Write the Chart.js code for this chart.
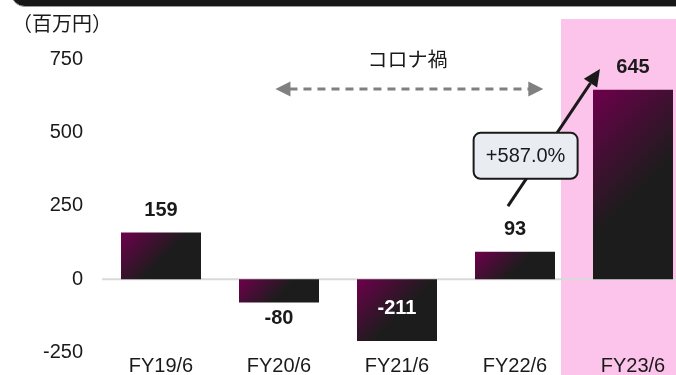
<!DOCTYPE html>
<html>
<head>
<meta charset="utf-8">
<script src="https://cdn.jsdelivr.net/npm/chart.js@4/dist/chart.umd.min.js"></script>
<style>
  html, body { margin: 0; padding: 0; background: #ffffff; overflow: hidden; width: 676px; height: 375px; }
  #wrap { position: absolute; left: 0; top: 0; width: 700px; height: 375px; }
</style>
</head>
<body>
<div id="wrap"><canvas id="c" width="700" height="375"></canvas></div>
<script>
// ---- data ----
const categories = ['FY19/6', 'FY20/6', 'FY21/6', 'FY22/6', 'FY23/6'];
const profitValues = [159, -80, -211, 93, 645];
const valueLabels = ['159', '-80', '-211', '93', '645'];
const yTicks = [-250, 0, 250, 500, 750];
const unitLabel = '（百万円）';
const periodLabel = 'コロナ禍';
const growthLabel = '+587.0%';
const highlightIndex = 4;

const FONT = '"Liberation Sans", Arial, "Noto Sans CJK JP", sans-serif';
const JFONT = '"Noto Sans CJK JP", "Liberation Sans", sans-serif';

function barGradient(ctx, left, top, w, h) {
  const L = (w + h) / 2;
  const g = ctx.createLinearGradient(left, top, left + L, top + L);
  g.addColorStop(0, '#6e004c');
  g.addColorStop(0.55, '#1c1c1c');
  g.addColorStop(1, '#1c1c1c');
  return g;
}

const decorPlugin = {
  id: 'decor',
  beforeDraw(chart) {
    const { ctx } = chart;
    const xs = chart.scales.x;
    const step = xs.getPixelForValue(1) - xs.getPixelForValue(0);
    ctx.save();
    // header bar
    ctx.fillStyle = '#171717';
    ctx.strokeStyle = '#9a9a9a';
    ctx.lineWidth = 1;
    ctx.beginPath();
    ctx.roundRect(11, -30, 720, 36.5, 14);
    ctx.fill();
    ctx.stroke();
    // highlight band
    const bx = xs.getPixelForValue(highlightIndex) - 0.61 * step;
    ctx.fillStyle = '#fcc4ea';
    ctx.fillRect(bx, 19, chart.width - bx, chart.height - 19);
    // unit label
    ctx.fillStyle = '#1a1a1a';
    ctx.font = '20px ' + JFONT;
    ctx.textAlign = 'left';
    ctx.textBaseline = 'middle';
    ctx.fillText(unitLabel, 12, 23);
    ctx.restore();
  },
  beforeDatasetsDraw(chart) {
    const { ctx, chartArea } = chart;
    const ys = chart.scales.y;
    const y0 = ys.getPixelForValue(0);
    ctx.save();
    ctx.strokeStyle = '#d9d9d9';
    ctx.lineWidth = 2;
    ctx.beginPath();
    ctx.moveTo(chartArea.left, y0);
    ctx.lineTo(chartArea.right, y0);
    ctx.stroke();
    ctx.restore();
  },
  afterDatasetsDraw(chart) {
    const { ctx } = chart;
    const xs = chart.scales.x, ys = chart.scales.y;
    const x0 = xs.getPixelForValue(0);
    const step = xs.getPixelForValue(1) - x0;
    const px = v => x0 + v * step;
    const py = v => ys.getPixelForValue(v);
    const meta = chart.getDatasetMeta(0);
    ctx.save();
    // value labels
    ctx.font = 'bold 20px ' + FONT;
    ctx.textAlign = 'center';
    ctx.textBaseline = 'middle';
    meta.data.forEach((bar, i) => {
      const v = profitValues[i];
      let y, color = '#1a1a1a';
      if (i === 2) { y = (bar.y + bar.base) / 2 - 2; color = '#ffffff'; }
      else if (v >= 0) { y = bar.y - 22; }
      else { y = bar.y + 16; }
      ctx.fillStyle = color;
      ctx.fillText(valueLabels[i], bar.x, y);
    });
    // period label + dashed double arrow
    ctx.font = '20px ' + JFONT;
    ctx.fillStyle = '#1a1a1a';
    ctx.fillText(periodLabel, px(2.09), py(750));
    const ay = py(648);
    const ax1 = px(0.97), ax2 = px(3.24);
    ctx.strokeStyle = '#808080';
    ctx.fillStyle = '#808080';
    ctx.lineWidth = 3;
    ctx.setLineDash([8, 6]);
    ctx.beginPath();
    ctx.moveTo(ax1 + 14, ay);
    ctx.lineTo(ax2 - 14, ay);
    ctx.stroke();
    ctx.setLineDash([]);
    ctx.beginPath();
    ctx.moveTo(ax1, ay); ctx.lineTo(ax1 + 15, ay - 7.5); ctx.lineTo(ax1 + 15, ay + 7.5); ctx.closePath();
    ctx.fill();
    ctx.beginPath();
    ctx.moveTo(ax2, ay); ctx.lineTo(ax2 - 15, ay - 7.5); ctx.lineTo(ax2 - 15, ay + 7.5); ctx.closePath();
    ctx.fill();
    // growth arrow
    const sx = px(2.94), sy = py(249);
    const tx = px(3.72), ty = py(716);
    const ang = Math.atan2(ty - sy, tx - sx);
    const hl = 17, hw = 8;
    const bxp = tx - hl * Math.cos(ang), byp = ty - hl * Math.sin(ang);
    ctx.strokeStyle = '#1a1a1a';
    ctx.fillStyle = '#1a1a1a';
    ctx.lineWidth = 3;
    ctx.beginPath();
    ctx.moveTo(sx, sy);
    ctx.lineTo(bxp, byp);
    ctx.stroke();
    ctx.beginPath();
    ctx.moveTo(tx, ty);
    ctx.lineTo(bxp + hw * Math.sin(ang), byp - hw * Math.cos(ang));
    ctx.lineTo(bxp - hw * Math.sin(ang), byp + hw * Math.cos(ang));
    ctx.closePath();
    ctx.fill();
    // growth box
    const cx = px(3.09), cy = py(420);
    const bw = 104, bh = 46;
    ctx.fillStyle = '#e9edf2';
    ctx.strokeStyle = '#1a1a1a';
    ctx.lineWidth = 2;
    ctx.beginPath();
    ctx.roundRect(cx - bw / 2, cy - bh / 2, bw, bh, 7);
    ctx.fill();
    ctx.stroke();
    ctx.fillStyle = '#1a1a1a';
    ctx.font = '20px ' + FONT;
    ctx.fillText(growthLabel, cx, cy + 1);
    ctx.restore();
  }
};

new Chart(document.getElementById('c'), {
  type: 'bar',
  data: {
    labels: categories,
    datasets: [{
      data: profitValues,
      backgroundColor(context) {
        const chart = context.chart;
        if (!chart.chartArea || context.type !== 'data') return '#1c1c1c';
        const xs = chart.scales.x, ys = chart.scales.y;
        const i = context.dataIndex;
        const step = xs.getPixelForValue(1) - xs.getPixelForValue(0);
        const w = step * 0.678;
        const left = xs.getPixelForValue(i) - w / 2;
        const a = ys.getPixelForValue(profitValues[i]);
        const b = ys.getPixelForValue(0);
        const top = Math.min(a, b), h = Math.abs(a - b);
        return barGradient(chart.ctx, left, top, w, h);
      },
      borderWidth: 0,
      categoryPercentage: 1,
      barPercentage: 0.678
    }]
  },
  options: {
    responsive: false,
    animation: false,
    events: [],
    layout: { padding: { top: 59, left: 0, right: 8, bottom: 0 } },
    plugins: { legend: { display: false }, tooltip: { enabled: false }, title: { display: false } },
    scales: {
      x: {
        offset: true,
        grid: { display: false, drawTicks: false },
        border: { display: false },
        ticks: { color: '#1a1a1a', font: { family: FONT, size: 20 }, padding: 2, maxRotation: 0 },
        afterFit(scale) { scale.height = 22.5; }
      },
      y: {
        min: -250, max: 750,
        afterBuildTicks(scale) { scale.ticks = yTicks.map(v => ({ value: v })); },
        grid: { display: false, drawTicks: false },
        border: { display: false },
        ticks: { color: '#1a1a1a', font: { family: FONT, size: 20, lineHeight: 0.3 }, padding: 19 },
        afterFit(scale) { scale.width = 102; }
      }
    }
  },
  plugins: [decorPlugin]
});
</script>
</body>
</html>
